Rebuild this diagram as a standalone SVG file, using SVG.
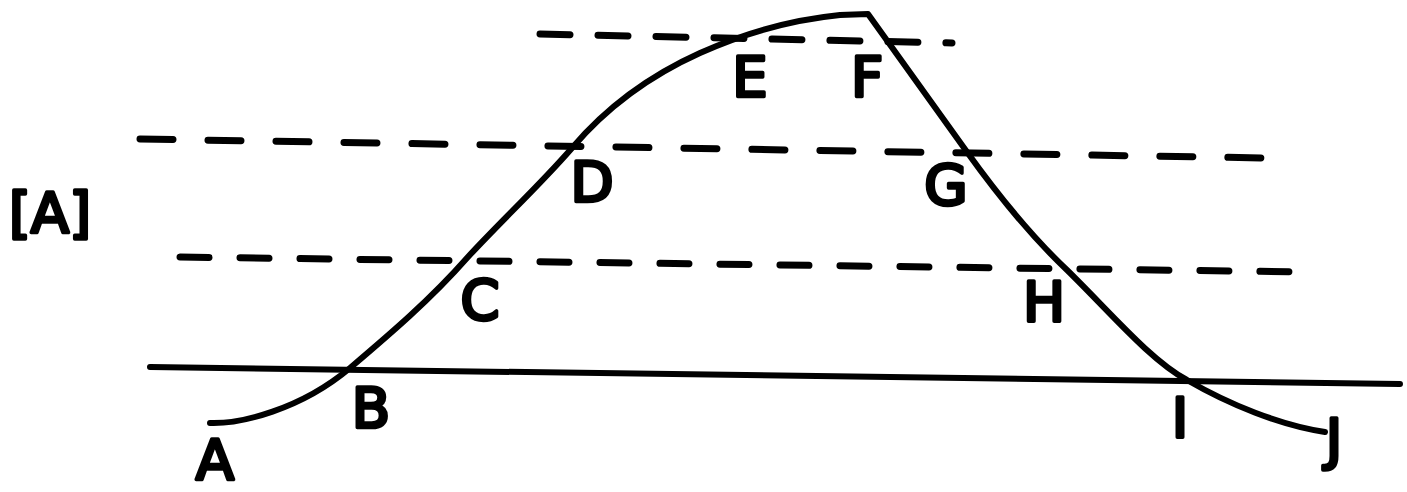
<svg xmlns="http://www.w3.org/2000/svg" width="1407" height="492" viewBox="0 0 1407 492">
<style>
.bg{fill:#fff}
.solid{fill:none;stroke:#000;stroke-width:6;stroke-linecap:round;stroke-linejoin:round}
.dash{fill:none;stroke:#000;stroke-width:7;stroke-linecap:round}
.lbl{font-family:"DejaVu Sans","Liberation Sans",sans-serif;font-weight:normal;font-size:56px;fill:#000;stroke:#000;stroke-width:3.5;stroke-linejoin:round;stroke-linecap:round;text-anchor:middle}
</style>
<rect class="bg" x="0" y="0" width="1407" height="492"/>
<g id="connectors">
  <path id="baseline" class="solid" d="M150,367 L1400,384"/>
  <path id="level-EF" class="dash" stroke-dasharray="30 28" d="M540,34 L952,43"/>
  <path id="level-DG" class="dash" stroke-dasharray="33 35" d="M140,139 L1265,158"/>
  <path id="level-CH" class="dash" stroke-dasharray="29 31" d="M180,257 L1310,272"/>
  <path id="profile" class="solid" d="M210,423 C240,424 300,410 350,368 C390,334 430,300 467,258 C500,222 540,185 572,148 C600,115 640,80 700,53 C740,35 790,20 840,15 L868,14 L967,152 C1000,198 1030,235 1067,270 C1110,312 1150,360 1187,380 C1230,405 1280,425 1325,432"/>
</g>
<g id="label-panel"><text class="lbl" x="50" y="232">[A]</text></g>
<g id="node-A"><text class="lbl" x="215" y="479">A</text></g>
<g id="node-B"><text class="lbl" x="371" y="427">B</text></g>
<g id="node-C"><text class="lbl" x="480" y="319">C</text></g>
<g id="node-D"><text class="lbl" x="592" y="201">D</text></g>
<g id="node-E"><text class="lbl" x="750" y="96">E</text></g>
<g id="node-F"><text class="lbl" x="867" y="96">F</text></g>
<g id="node-G"><text class="lbl" x="946" y="204">G</text></g>
<g id="node-H"><text class="lbl" x="1044" y="321">H</text></g>
<g id="node-I"><text class="lbl" x="1180" y="437">I</text></g>
<g id="node-J"><text class="lbl" x="1334" y="458">J</text></g>
</svg>
